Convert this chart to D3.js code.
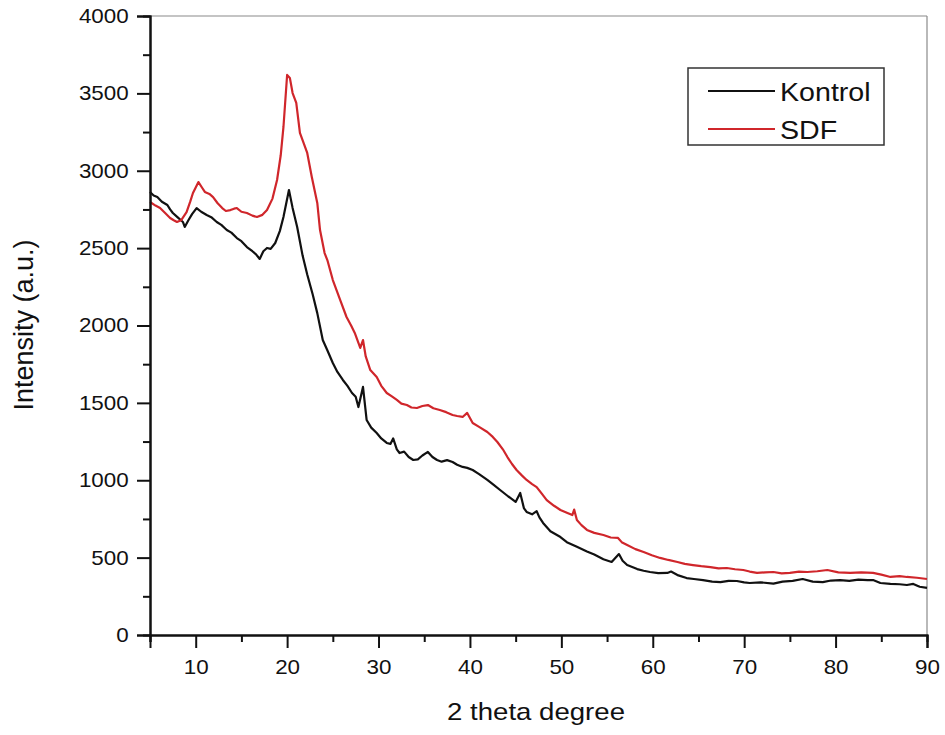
<!doctype html>
<html>
  <head>
    <title>XRD Kontrol vs SDF</title>
    <style>
      html, body { margin: 0; padding: 0; background: #fff; }
      svg text { font-family: "Liberation Sans", Arial, sans-serif; fill: #111; }
      .line { fill: none; stroke-width: 2.2px; stroke-linejoin: round; }
    </style>
  </head>
  <body>
    <svg id="chart" width="945" height="735"></svg>

    <script src="https://d3js.org/d3.v7.min.js"></script>
    <script>
      // values (2 theta in degrees, intensity in a.u.)
      var kontrolTheta = [5.0, 5.4, 5.8, 6.3, 6.9, 7.2, 7.5, 8.0, 8.6, 8.8, 9.2, 9.6, 10.1, 10.6, 11.2, 11.7, 12.3, 12.8, 13.4, 13.9,
        14.5, 15.0, 15.6, 16.2, 16.6, 17.0, 17.4, 17.8, 18.2, 18.7, 19.2, 19.6, 20.2, 20.6, 21.1, 21.7, 22.2, 22.8, 23.3, 23.9,
        24.4, 25.0, 25.5, 26.1, 26.6, 27.1, 27.5, 27.8, 28.3, 28.7, 29.2, 29.8, 30.3, 30.9, 31.3, 31.6, 32.0, 32.3, 32.8, 33.3,
        33.8, 34.3, 34.8, 35.4, 35.9, 36.4, 36.9, 37.5, 38.1, 38.6, 39.2, 39.7, 40.3, 41.0, 41.9, 42.6, 43.3, 44.2, 45.0, 45.5,
        45.9, 46.2, 46.8, 47.3, 47.6, 48.0, 48.8, 49.9, 50.6, 51.7, 52.8, 53.6, 54.6, 55.5, 56.3, 56.7, 57.2, 58.3, 59.0, 59.7,
        60.6, 61.6, 62.0, 62.8, 63.7, 64.5, 65.5, 66.5, 67.4, 68.3, 69.2, 70.0, 70.6, 71.8, 73.2, 74.2, 75.3, 76.4, 77.5, 78.6,
        79.5, 80.5, 81.5, 82.5, 83.5, 84.1, 84.9, 86.0, 87.0, 87.8, 88.5, 89.2, 90.0];
      var kontrolIntensity = [2863, 2840, 2830, 2800, 2779, 2750, 2727, 2700, 2669, 2637, 2680, 2720, 2759, 2735, 2714, 2700, 2669, 2650, 2617, 2600,
        2565, 2545, 2507, 2480, 2460, 2430, 2480, 2501, 2495, 2533, 2610, 2701, 2875, 2760, 2637, 2450, 2330, 2200, 2080, 1906,
        1840, 1758, 1700, 1648, 1610, 1564, 1540, 1473, 1603, 1389, 1340, 1305, 1270, 1241, 1235, 1270, 1200, 1176, 1185, 1150,
        1131, 1135, 1160, 1183, 1150, 1131, 1120, 1130, 1118, 1100, 1086, 1080, 1066, 1040, 1002, 970, 937, 895, 860, 918,
        820, 795, 780, 800, 760, 724, 670, 633, 600, 570, 540, 520, 490, 472, 523, 480, 452, 426, 415, 407,
        400, 401, 410, 385, 368, 362, 355, 345, 342, 350, 349, 340, 336, 340, 332, 345, 350, 362, 345, 342,
        352, 355, 350, 358, 355, 355, 336, 330, 328, 323, 330, 312, 304];

      var sdfTheta = [5.0, 5.6, 6.1, 6.6, 7.2, 7.6, 7.95, 8.4, 9.0, 9.4, 9.7, 10.3, 10.7, 11.0, 11.5, 11.9, 12.4, 12.9, 13.3, 13.8,
        14.2, 14.5, 15.0, 15.6, 16.2, 16.7, 17.3, 17.8, 18.4, 18.9, 19.3, 19.6, 20.0, 20.3, 20.6, 21.0, 21.4, 21.8, 22.2, 22.7,
        23.3, 23.6, 24.1, 24.4, 25.0, 25.8, 26.5, 27.0, 27.4, 28.0, 28.3, 28.6, 29.1, 29.8, 30.3, 30.9, 31.5, 32.0, 32.5, 33.1,
        33.6, 34.2, 34.8, 35.4, 36.0, 36.7, 37.4, 38.1, 38.6, 39.2, 39.7, 40.3, 41.0, 41.9, 42.5, 43.0, 43.6, 44.1, 44.6, 45.1,
        45.7, 46.2, 46.8, 47.3, 47.9, 48.4, 49.2, 49.9, 50.6, 51.2, 51.4, 51.7, 52.2, 52.8, 53.6, 54.6, 55.4, 56.2, 56.6, 57.2,
        58.1, 59.0, 59.9, 60.8, 61.7, 62.7, 63.5, 64.4, 65.3, 66.3, 67.2, 68.1, 69.0, 69.9, 70.6, 71.4, 72.3, 73.2, 74.1, 75.0,
        76.0, 76.9, 78.0, 79.1, 80.3, 81.6, 82.8, 84.1, 85.0, 86.0, 87.0, 87.8, 88.9, 90.0];
      var sdfIntensity = [2798, 2775, 2759, 2730, 2695, 2680, 2669, 2680, 2733, 2800, 2856, 2927, 2890, 2863, 2850, 2830, 2790, 2759, 2740, 2746,
        2755, 2759, 2735, 2727, 2710, 2701, 2715, 2746, 2820, 2940, 3100, 3283, 3619, 3600, 3502, 3438, 3244, 3180, 3115, 2960,
        2792, 2617, 2468, 2423, 2294, 2165, 2055, 2000, 1952, 1855, 1906, 1800, 1712, 1667, 1610, 1564, 1540, 1519, 1495, 1486,
        1470, 1467, 1480, 1486, 1465, 1454, 1440, 1422, 1415, 1409, 1435, 1370, 1345, 1312, 1280, 1247, 1200, 1150, 1105, 1066,
        1030, 1002, 975, 956, 910, 872, 835, 808, 790, 775, 810, 743, 710, 679, 660, 646, 630, 627, 600, 582,
        555, 536, 515, 498, 485, 472, 460, 452, 445, 439, 430, 433, 425, 420, 410, 401, 405, 407, 398, 401,
        410, 407, 412, 420, 405, 401, 405, 401, 390, 375, 380, 375, 370, 362];

      var seriesNames = ["Kontrol", "SDF"];
      var seriesColors = ["#111111", "#d0262b"];
      var xMajorTicks = [10, 20, 30, 40, 50, 60, 70, 80, 90];
      var xMinorTicks = [5, 15, 25, 35, 45, 55, 65, 75, 85];
      var yMajorTicks = [0, 500, 1000, 1500, 2000, 2500, 3000, 3500, 4000];
      var yMinorTicks = [250, 750, 1250, 1750, 2250, 2750, 3250, 3750];

      var margin = {top: 16, right: 18, bottom: 100, left: 150},
          width = 945 - margin.left - margin.right,
          height = 735 - margin.top - margin.bottom;

      var svg = d3.select("#chart");
      var g = svg.append("g")
          .attr("transform", "translate(" + margin.left + "," + margin.top + ")");

      var x = d3.scaleLinear().domain([5, 90]).range([0, width]);
      var y = d3.scaleLinear().domain([0, 4000]).range([height, 0]);

      // frame (top and right)
      g.append("line").attr("x1", 0).attr("x2", width).attr("y1", 0).attr("y2", 0)
          .attr("stroke", "#8a8a8a").attr("stroke-width", 1.2);
      g.append("line").attr("x1", width).attr("x2", width).attr("y1", 0).attr("y2", height)
          .attr("stroke", "#8a8a8a").attr("stroke-width", 1.2);

      // the curves
      var valueline = d3.line()
          .x(function(d) { return x(d[0]); })
          .y(function(d) { return y(d[1]); });

      var kontrol = kontrolTheta.map(function(t, i) { return [t, kontrolIntensity[i]]; });
      var sdf = sdfTheta.map(function(t, i) { return [t, sdfIntensity[i]]; });

      g.append("path").datum(kontrol).attr("class", "line")
          .attr("stroke", seriesColors[0]).attr("d", valueline);
      g.append("path").datum(sdf).attr("class", "line")
          .attr("stroke", seriesColors[1]).attr("d", valueline);

      // axes
      function styleAxis(sel) {
        sel.select(".domain").attr("stroke", "#111").attr("stroke-width", 2);
        sel.selectAll(".tick line").attr("stroke", "#111").attr("stroke-width", 2);
      }

      var xMinor = g.append("g").attr("transform", "translate(0," + height + ")")
          .call(d3.axisBottom(x).tickValues(xMinorTicks).tickSize(7).tickFormat(""));
      styleAxis(xMinor);
      var xAxis = g.append("g").attr("transform", "translate(0," + height + ")")
          .call(d3.axisBottom(x).tickValues(xMajorTicks).tickSize(13).tickPadding(12)
            .tickFormat(d3.format("d")));
      styleAxis(xAxis);
      xAxis.selectAll("text")
          .style("font-size", "20px")
          .attr("transform", "scale(1.12,1)");

      var yMinor = g.append("g")
          .call(d3.axisLeft(y).tickValues(yMinorTicks).tickSize(7).tickFormat(""));
      styleAxis(yMinor);
      var yAxis = g.append("g")
          .call(d3.axisLeft(y).tickValues(yMajorTicks).tickSize(13).tickPadding(6)
            .tickFormat(d3.format("d")));
      styleAxis(yAxis);
      yAxis.selectAll("text")
          .style("font-size", "20px")
          .attr("transform", "scale(1.12,1)");

      // axis titles
      svg.append("text")
          .attr("transform", "translate(536,720) scale(1.15,1)")
          .attr("text-anchor", "middle")
          .style("font-size", "24px")
          .text("2 theta degree");

      svg.append("text")
          .attr("transform", "translate(33,325) rotate(-90)")
          .attr("text-anchor", "middle")
          .style("font-size", "27px")
          .text("Intensity (a.u.)");

      // legend
      var legend = svg.append("g").attr("transform", "translate(688,68)");
      legend.append("rect")
          .attr("width", 196).attr("height", 77)
          .attr("fill", "#fff").attr("stroke", "#333").attr("stroke-width", 1.5);
      seriesNames.forEach(function(name, i) {
        var ly = 23 + i * 38;
        legend.append("line")
            .attr("x1", 20).attr("x2", 87).attr("y1", ly).attr("y2", ly)
            .attr("stroke", seriesColors[i]).attr("stroke-width", 2);
        legend.append("text")
            .attr("transform", "translate(92," + (ly + 10) + ") scale(1.1,1)")
            .style("font-size", "26px")
            .text(name);
      });
    </script>
  </body>
</html>
